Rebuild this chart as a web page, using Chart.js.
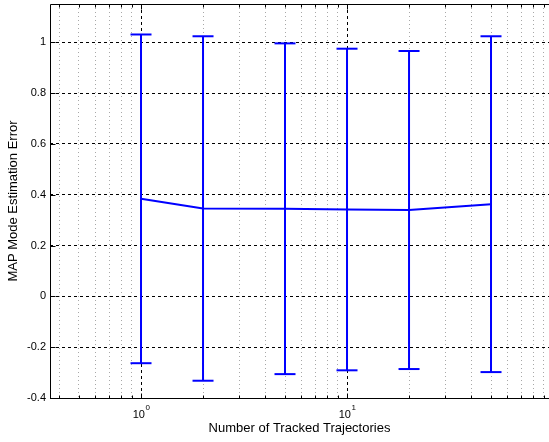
<!DOCTYPE html>
<html>
<head>
<meta charset="utf-8">
<script src="https://cdn.jsdelivr.net/npm/chart.js@4.4.1/dist/chart.umd.min.js"></script>
<style>
  html, body { margin: 0; padding: 0; background: #fff; }
  #wrap { width: 549px; height: 442px; }
</style>
</head>
<body>
<div id="wrap"><canvas id="errChart"></canvas></div>
<script>
// data
const trajCounts = [1, 2, 5, 10, 20, 50];
const meanError = [0.384, 0.346, 0.345, 0.342, 0.340, 0.363];
const errHalf = [0.647, 0.678, 0.651, 0.633, 0.626, 0.661];

const yTicks = [-0.4, -0.2, 0, 0.2, 0.4, 0.6, 0.8, 1];
const xMajorTicks = [1, 10];
const xMinorTicks = [0.4, 0.5, 0.6, 0.7, 0.8, 0.9, 2, 3, 4, 5, 6, 7, 8, 9, 20, 30, 40, 50, 60, 70, 80, 90];
const xTickLabels = ['0', '1']; // exponents of 10 for the major ticks

const xMin = 0.3616, xMax = 95.6;
const yMin = -0.4, yMax = 1.151;

const FONT = "'Liberation Sans', Arial, sans-serif";
const BLUE = '#0000ff';

const isMajorX = v => xMajorTicks.includes(v);

// vertical error segments, broken up with nulls
const barPoints = [];
const capPoints = [];
trajCounts.forEach((n, i) => {
    barPoints.push({ x: n, y: meanError[i] - errHalf[i] });
    barPoints.push({ x: n, y: meanError[i] + errHalf[i] });
    barPoints.push({ x: n, y: null });
    capPoints.push({ x: n, y: meanError[i] - errHalf[i] });
    capPoints.push({ x: n, y: meanError[i] + errHalf[i] });
});

// axes box, inward tick marks and the 10^n labels, matlab style
const matlabAxes = {
    id: 'matlabAxes',
    afterDraw(chart) {
        const { ctx, chartArea: a, scales: { x, y } } = chart;
        ctx.save();
        ctx.strokeStyle = '#000';
        ctx.lineWidth = 1;
        ctx.setLineDash([]);

        const L = a.left + 0.5, T = a.top + 0.5, B = Math.round(a.bottom) + 0.5;
        ctx.beginPath();
        ctx.moveTo(a.right, T); ctx.lineTo(L, T); ctx.lineTo(L, B); ctx.lineTo(a.right, B);
        ctx.stroke();

        ctx.beginPath();
        yTicks.forEach(v => {
            const py = Math.round(y.getPixelForValue(v)) + 0.5;
            ctx.moveTo(L, py); ctx.lineTo(L + 5, py);
        });
        xMajorTicks.concat(xMinorTicks).forEach(v => {
            const len = isMajorX(v) ? 5 : 3;
            const px = Math.round(x.getPixelForValue(v)) + 0.5;
            ctx.moveTo(px, B); ctx.lineTo(px, B - len);
            ctx.moveTo(px, T); ctx.lineTo(px, T + len);
        });
        ctx.stroke();

        // x tick labels with superscript exponent
        ctx.fillStyle = '#000';
        ctx.textBaseline = 'alphabetic';
        ctx.textAlign = 'left';
        xMajorTicks.forEach((v, i) => {
            const px = x.getPixelForValue(v);
            ctx.font = '11px ' + FONT;
            const wBase = ctx.measureText('10').width;
            ctx.font = '8px ' + FONT;
            const wExp = ctx.measureText(xTickLabels[i]).width;
            const x0 = px - (wBase + wExp) / 2;
            ctx.font = '11px ' + FONT;
            ctx.fillText('10', x0, a.bottom + 20);
            ctx.font = '8px ' + FONT;
            ctx.fillText(xTickLabels[i], x0 + wBase + 0.5, a.bottom + 12);
        });
        ctx.restore();
    }
};

new Chart(document.getElementById('errChart'), {
    type: 'line',
    data: {
        datasets: [
            {
                label: 'mean',
                data: trajCounts.map((n, i) => ({ x: n, y: meanError[i] })),
                borderColor: BLUE,
                borderWidth: 2,
                pointRadius: 0,
                fill: false,
                tension: 0
            },
            {
                label: 'bars',
                data: barPoints,
                borderColor: BLUE,
                borderWidth: 2,
                pointRadius: 0,
                spanGaps: false,
                fill: false
            },
            {
                label: 'caps',
                data: capPoints,
                showLine: false,
                pointStyle: 'line',
                pointRadius: 10.5,
                pointBorderWidth: 2,
                pointBorderColor: BLUE,
                pointBackgroundColor: BLUE
            }
        ]
    },
    options: {
        responsive: true,
        maintainAspectRatio: false,
        animation: false,
        events: [],
        layout: { autoPadding: false, padding: { top: 4, right: 0, bottom: 0, left: 0 } },
        plugins: {
            legend: { display: false },
            tooltip: { enabled: false }
        },
        scales: {
            x: {
                type: 'logarithmic',
                min: xMin,
                max: xMax,
                afterBuildTicks: s => { s.ticks = xMinorTicks.concat(xMajorTicks).sort((a, b) => a - b).map(v => ({ value: v })); },
                afterFit: s => { s.height = 44; s.paddingLeft = 0; s.paddingRight = 0; },
                ticks: { display: false },
                grid: {
                    drawTicks: false,
                    lineWidth: 1,
                    color: c => (c.tick && isMajorX(c.tick.value)) ? '#000' : '#a8a8a8'
                },
                border: {
                    display: false,
                    dash: c => (c.tick && isMajorX(c.tick.value)) ? [3, 3] : [1, 3]
                },
                title: {
                    display: true,
                    text: 'Number of Tracked Trajectories',
                    color: '#000',
                    font: { family: FONT, size: 13 },
                    padding: { top: 0, bottom: 6 }
                }
            },
            y: {
                type: 'linear',
                min: yMin,
                max: yMax,
                afterBuildTicks: s => { s.ticks = yTicks.map(v => ({ value: v })); },
                afterFit: s => { s.width = 50; s.paddingTop = 0; s.paddingBottom = 0; },
                ticks: {
                    color: '#000',
                    padding: 4,
                    font: { family: FONT, size: 11 },
                    callback: v => String(Math.round(v * 10) / 10)
                },
                grid: { drawTicks: false, lineWidth: 1, color: '#000' },
                border: { display: false, dash: [3, 3] },
                title: {
                    display: true,
                    text: 'MAP Mode Estimation Error',
                    color: '#000',
                    font: { family: FONT, size: 13 },
                    padding: { top: 6, bottom: 0 }
                }
            }
        }
    },
    plugins: [matlabAxes]
});
</script>
</body>
</html>
